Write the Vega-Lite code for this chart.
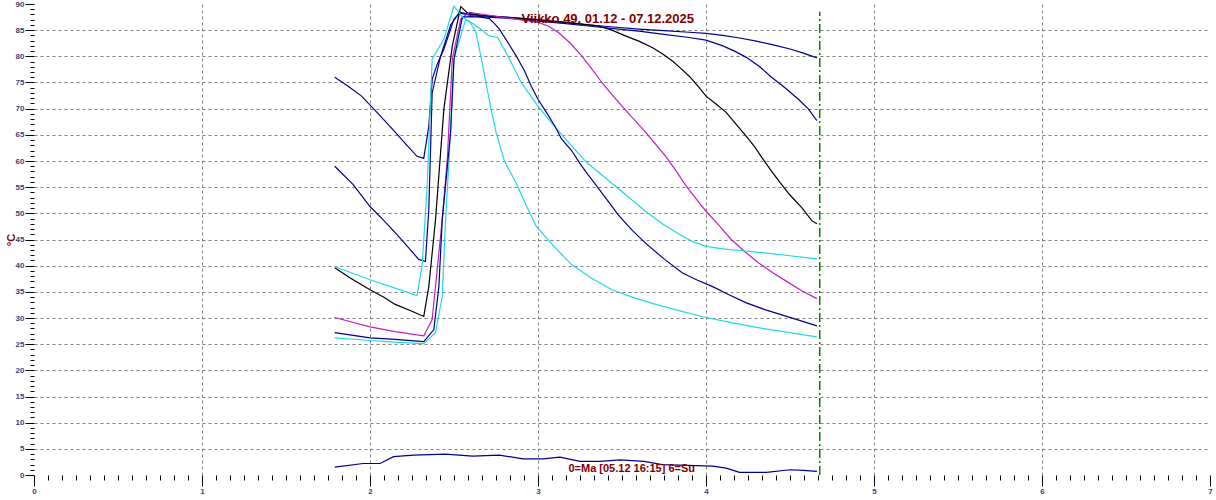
{
  "$schema": "https://vega.github.io/schema/vega-lite/v6.json",
  "width": 1176,
  "height": 471,
  "autosize": {"type": "none"},
  "padding": {"left": 34, "top": 4, "right": 6, "bottom": 25},
  "background": "white",
  "config": {"view": {"stroke": null}, "font": "Liberation Sans"},
  "datasets": {
    "curves": [
      {"s":"s1","x":1.79,"y":76.0},{"s":"s1","x":1.87,"y":74.3},{"s":"s1","x":1.95,"y":72.4},{"s":"s1","x":2.05,"y":69.0},{"s":"s1","x":2.15,"y":65.5},{"s":"s1","x":2.22,"y":63.0},{"s":"s1","x":2.28,"y":60.9},{"s":"s1","x":2.32,"y":60.5},{"s":"s1","x":2.35,"y":66.6},{"s":"s1","x":2.37,"y":75.6},{"s":"s1","x":2.40,"y":78.5},{"s":"s1","x":2.44,"y":81.4},{"s":"s1","x":2.50,"y":87.1},{"s":"s1","x":2.54,"y":88.4},{"s":"s1","x":2.60,"y":88.0},{"s":"s1","x":2.70,"y":87.7},{"s":"s1","x":2.85,"y":87.4},{"s":"s1","x":3.00,"y":86.9},{"s":"s1","x":3.15,"y":86.5},{"s":"s1","x":3.30,"y":86.0},{"s":"s1","x":3.45,"y":85.6},{"s":"s1","x":3.60,"y":85.2},{"s":"s1","x":3.75,"y":84.9},{"s":"s1","x":3.90,"y":84.6},{"s":"s1","x":4.00,"y":84.4},{"s":"s1","x":4.10,"y":84.0},{"s":"s1","x":4.20,"y":83.5},{"s":"s1","x":4.30,"y":82.9},{"s":"s1","x":4.40,"y":82.2},{"s":"s1","x":4.50,"y":81.4},{"s":"s1","x":4.58,"y":80.6},{"s":"s1","x":4.66,"y":79.7},
      {"s":"s2","x":1.79,"y":59.0},{"s":"s2","x":1.90,"y":55.5},{"s":"s2","x":2.00,"y":51.3},{"s":"s2","x":2.08,"y":48.7},{"s":"s2","x":2.15,"y":46.3},{"s":"s2","x":2.22,"y":43.8},{"s":"s2","x":2.29,"y":41.2},{"s":"s2","x":2.33,"y":40.8},{"s":"s2","x":2.35,"y":50.7},{"s":"s2","x":2.37,"y":73.0},{"s":"s2","x":2.42,"y":80.0},{"s":"s2","x":2.48,"y":86.0},{"s":"s2","x":2.53,"y":88.3},{"s":"s2","x":2.60,"y":87.8},{"s":"s2","x":2.70,"y":87.5},{"s":"s2","x":2.85,"y":87.2},{"s":"s2","x":3.00,"y":86.7},{"s":"s2","x":3.15,"y":86.3},{"s":"s2","x":3.30,"y":85.8},{"s":"s2","x":3.45,"y":85.3},{"s":"s2","x":3.60,"y":84.8},{"s":"s2","x":3.75,"y":84.2},{"s":"s2","x":3.90,"y":83.6},{"s":"s2","x":4.00,"y":83.1},{"s":"s2","x":4.10,"y":82.0},{"s":"s2","x":4.17,"y":81.0},{"s":"s2","x":4.24,"y":79.8},{"s":"s2","x":4.32,"y":78.0},{"s":"s2","x":4.39,"y":76.0},{"s":"s2","x":4.47,"y":74.0},{"s":"s2","x":4.55,"y":71.8},{"s":"s2","x":4.61,"y":69.9},{"s":"s2","x":4.66,"y":67.7},
      {"s":"s3","x":1.79,"y":39.6},{"s":"s3","x":1.88,"y":37.7},{"s":"s3","x":2.00,"y":35.4},{"s":"s3","x":2.08,"y":34.0},{"s":"s3","x":2.15,"y":32.6},{"s":"s3","x":2.25,"y":31.3},{"s":"s3","x":2.32,"y":30.3},{"s":"s3","x":2.35,"y":36.0},{"s":"s3","x":2.39,"y":48.8},{"s":"s3","x":2.44,"y":70.0},{"s":"s3","x":2.49,"y":82.0},{"s":"s3","x":2.54,"y":89.5},{"s":"s3","x":2.58,"y":88.3},{"s":"s3","x":2.65,"y":87.9},{"s":"s3","x":2.80,"y":87.5},{"s":"s3","x":3.00,"y":87.0},{"s":"s3","x":3.20,"y":86.4},{"s":"s3","x":3.36,"y":85.8},{"s":"s3","x":3.44,"y":85.0},{"s":"s3","x":3.52,"y":83.9},{"s":"s3","x":3.60,"y":82.9},{"s":"s3","x":3.68,"y":81.7},{"s":"s3","x":3.74,"y":80.5},{"s":"s3","x":3.80,"y":79.1},{"s":"s3","x":3.85,"y":77.7},{"s":"s3","x":3.90,"y":76.2},{"s":"s3","x":3.95,"y":74.4},{"s":"s3","x":4.00,"y":72.4},{"s":"s3","x":4.06,"y":70.9},{"s":"s3","x":4.12,"y":69.3},{"s":"s3","x":4.18,"y":67.0},{"s":"s3","x":4.24,"y":64.7},{"s":"s3","x":4.29,"y":62.7},{"s":"s3","x":4.33,"y":60.8},{"s":"s3","x":4.38,"y":58.5},{"s":"s3","x":4.44,"y":55.9},{"s":"s3","x":4.50,"y":53.5},{"s":"s3","x":4.57,"y":51.1},{"s":"s3","x":4.63,"y":48.6},{"s":"s3","x":4.66,"y":48.0},
      {"s":"s4","x":1.79,"y":30.1},{"s":"s4","x":2.00,"y":28.3},{"s":"s4","x":2.15,"y":27.4},{"s":"s4","x":2.32,"y":26.6},{"s":"s4","x":2.37,"y":29.7},{"s":"s4","x":2.40,"y":39.3},{"s":"s4","x":2.43,"y":48.8},{"s":"s4","x":2.46,"y":60.3},{"s":"s4","x":2.49,"y":79.5},{"s":"s4","x":2.54,"y":87.1},{"s":"s4","x":2.59,"y":88.4},{"s":"s4","x":2.70,"y":87.9},{"s":"s4","x":2.87,"y":87.1},{"s":"s4","x":3.00,"y":86.5},{"s":"s4","x":3.06,"y":85.8},{"s":"s4","x":3.12,"y":84.6},{"s":"s4","x":3.19,"y":82.6},{"s":"s4","x":3.26,"y":80.1},{"s":"s4","x":3.32,"y":77.6},{"s":"s4","x":3.38,"y":75.0},{"s":"s4","x":3.44,"y":72.7},{"s":"s4","x":3.50,"y":70.5},{"s":"s4","x":3.57,"y":68.0},{"s":"s4","x":3.64,"y":65.5},{"s":"s4","x":3.70,"y":63.2},{"s":"s4","x":3.76,"y":60.9},{"s":"s4","x":3.82,"y":58.2},{"s":"s4","x":3.88,"y":55.3},{"s":"s4","x":3.94,"y":52.8},{"s":"s4","x":4.00,"y":50.4},{"s":"s4","x":4.08,"y":47.6},{"s":"s4","x":4.15,"y":45.0},{"s":"s4","x":4.23,"y":42.7},{"s":"s4","x":4.31,"y":40.6},{"s":"s4","x":4.40,"y":38.6},{"s":"s4","x":4.48,"y":37.0},{"s":"s4","x":4.57,"y":35.2},{"s":"s4","x":4.66,"y":33.7},
      {"s":"s5","x":1.79,"y":26.2},{"s":"s5","x":2.00,"y":25.7},{"s":"s5","x":2.15,"y":25.4},{"s":"s5","x":2.32,"y":25.1},{"s":"s5","x":2.39,"y":27.2},{"s":"s5","x":2.43,"y":34.1},{"s":"s5","x":2.45,"y":48.8},{"s":"s5","x":2.47,"y":60.0},{"s":"s5","x":2.50,"y":79.5},{"s":"s5","x":2.57,"y":87.1},{"s":"s5","x":2.60,"y":86.5},{"s":"s5","x":2.65,"y":85.4},{"s":"s5","x":2.71,"y":83.9},{"s":"s5","x":2.76,"y":83.6},{"s":"s5","x":2.83,"y":79.5},{"s":"s5","x":2.90,"y":75.0},{"s":"s5","x":3.00,"y":70.5},{"s":"s5","x":3.08,"y":67.3},{"s":"s5","x":3.17,"y":64.0},{"s":"s5","x":3.29,"y":59.7},{"s":"s5","x":3.40,"y":56.8},{"s":"s5","x":3.52,"y":53.6},{"s":"s5","x":3.64,"y":50.4},{"s":"s5","x":3.74,"y":48.0},{"s":"s5","x":3.84,"y":46.0},{"s":"s5","x":3.92,"y":44.6},{"s":"s5","x":4.00,"y":43.7},{"s":"s5","x":4.10,"y":43.2},{"s":"s5","x":4.20,"y":42.9},{"s":"s5","x":4.30,"y":42.6},{"s":"s5","x":4.39,"y":42.3},{"s":"s5","x":4.50,"y":41.9},{"s":"s5","x":4.58,"y":41.6},{"s":"s5","x":4.66,"y":41.3},
      {"s":"s6","x":1.79,"y":27.2},{"s":"s6","x":2.00,"y":26.2},{"s":"s6","x":2.15,"y":25.9},{"s":"s6","x":2.32,"y":25.5},{"s":"s6","x":2.38,"y":27.8},{"s":"s6","x":2.41,"y":36.0},{"s":"s6","x":2.43,"y":48.8},{"s":"s6","x":2.48,"y":65.5},{"s":"s6","x":2.50,"y":79.5},{"s":"s6","x":2.55,"y":87.5},{"s":"s6","x":2.60,"y":87.6},{"s":"s6","x":2.66,"y":87.5},{"s":"s6","x":2.71,"y":87.2},{"s":"s6","x":2.74,"y":86.3},{"s":"s6","x":2.77,"y":85.2},{"s":"s6","x":2.82,"y":82.7},{"s":"s6","x":2.87,"y":80.1},{"s":"s6","x":2.92,"y":77.2},{"s":"s6","x":2.96,"y":74.3},{"s":"s6","x":3.00,"y":71.8},{"s":"s6","x":3.05,"y":69.3},{"s":"s6","x":3.10,"y":66.7},{"s":"s6","x":3.14,"y":64.2},{"s":"s6","x":3.20,"y":62.0},{"s":"s6","x":3.25,"y":59.5},{"s":"s6","x":3.30,"y":57.3},{"s":"s6","x":3.35,"y":55.2},{"s":"s6","x":3.42,"y":52.2},{"s":"s6","x":3.48,"y":49.6},{"s":"s6","x":3.56,"y":46.8},{"s":"s6","x":3.64,"y":44.3},{"s":"s6","x":3.75,"y":41.3},{"s":"s6","x":3.86,"y":38.6},{"s":"s6","x":3.95,"y":37.2},{"s":"s6","x":4.04,"y":36.0},{"s":"s6","x":4.14,"y":34.4},{"s":"s6","x":4.24,"y":32.9},{"s":"s6","x":4.36,"y":31.5},{"s":"s6","x":4.48,"y":30.3},{"s":"s6","x":4.58,"y":29.3},{"s":"s6","x":4.66,"y":28.5},
      {"s":"s7","x":1.79,"y":39.8},{"s":"s7","x":1.90,"y":38.5},{"s":"s7","x":2.00,"y":37.3},{"s":"s7","x":2.14,"y":35.8},{"s":"s7","x":2.28,"y":34.3},{"s":"s7","x":2.31,"y":40.0},{"s":"s7","x":2.34,"y":55.0},{"s":"s7","x":2.37,"y":79.5},{"s":"s7","x":2.44,"y":83.3},{"s":"s7","x":2.50,"y":89.6},{"s":"s7","x":2.55,"y":87.5},{"s":"s7","x":2.60,"y":86.3},{"s":"s7","x":2.63,"y":84.6},{"s":"s7","x":2.66,"y":80.0},{"s":"s7","x":2.69,"y":75.0},{"s":"s7","x":2.72,"y":70.0},{"s":"s7","x":2.75,"y":65.5},{"s":"s7","x":2.80,"y":60.0},{"s":"s7","x":2.87,"y":55.8},{"s":"s7","x":2.93,"y":51.5},{"s":"s7","x":2.99,"y":47.5},{"s":"s7","x":3.10,"y":43.5},{"s":"s7","x":3.20,"y":40.2},{"s":"s7","x":3.32,"y":37.6},{"s":"s7","x":3.44,"y":35.4},{"s":"s7","x":3.57,"y":33.9},{"s":"s7","x":3.70,"y":32.6},{"s":"s7","x":3.85,"y":31.3},{"s":"s7","x":4.00,"y":30.1},{"s":"s7","x":4.15,"y":29.1},{"s":"s7","x":4.30,"y":28.2},{"s":"s7","x":4.48,"y":27.3},{"s":"s7","x":4.66,"y":26.4},
      {"s":"s8","x":1.79,"y":1.5},{"s":"s8","x":1.96,"y":2.2},{"s":"s8","x":2.06,"y":2.2},{"s":"s8","x":2.14,"y":3.5},{"s":"s8","x":2.26,"y":3.8},{"s":"s8","x":2.45,"y":4.0},{"s":"s8","x":2.61,"y":3.6},{"s":"s8","x":2.77,"y":3.8},{"s":"s8","x":2.91,"y":3.1},{"s":"s8","x":3.03,"y":3.1},{"s":"s8","x":3.13,"y":3.4},{"s":"s8","x":3.25,"y":2.6},{"s":"s8","x":3.37,"y":2.6},{"s":"s8","x":3.49,"y":2.9},{"s":"s8","x":3.63,"y":2.6},{"s":"s8","x":3.74,"y":2.0},{"s":"s8","x":4.04,"y":1.7},{"s":"s8","x":4.12,"y":1.3},{"s":"s8","x":4.20,"y":0.5},{"s":"s8","x":4.36,"y":0.5},{"s":"s8","x":4.50,"y":1.0},{"s":"s8","x":4.58,"y":0.9},{"s":"s8","x":4.66,"y":0.7}
    ],
    "marker": [{"x": 4.677, "y": 0, "y2": 88.5}],
    "titles": [{"x": 3.415, "y": 86.4, "label": "Viikko 49. 01.12 - 07.12.2025"}],
    "notes": [{"x": 3.558, "y": 0.52, "label": "0=Ma [05.12 16:15] 6=Su"}]
  },
  "encoding": {
    "x": {
      "field": "x", "type": "quantitative",
      "scale": {"domain": [0, 7], "nice": false, "zero": false},
      "axis": {
        "title": null,
        "domain": false,
        "values": [0,0.0833333,0.1666667,0.25,0.3333333,0.4166667,0.5,0.5833333,0.6666667,0.75,0.8333333,0.9166667,1,1.0833333,1.1666667,1.25,1.3333333,1.4166667,1.5,1.5833333,1.6666667,1.75,1.8333333,1.9166667,2,2.0833333,2.1666667,2.25,2.3333333,2.4166667,2.5,2.5833333,2.6666667,2.75,2.8333333,2.9166667,3,3.0833333,3.1666667,3.25,3.3333333,3.4166667,3.5,3.5833333,3.6666667,3.75,3.8333333,3.9166667,4,4.0833333,4.1666667,4.25,4.3333333,4.4166667,4.5,4.5833333,4.6666667,4.75,4.8333333,4.9166667,5,5.0833333,5.1666667,5.25,5.3333333,5.4166667,5.5,5.5833333,5.6666667,5.75,5.8333333,5.9166667,6,6.0833333,6.1666667,6.25,6.3333333,6.4166667,6.5,6.5833333,6.6666667,6.75,6.8333333,6.9166667,7],
        "labelExpr": "abs(datum.value - round(datum.value)) < 0.001 ? format(round(datum.value), 'd') : ''",
        "labelFlush": false,
        "labelOverlap": false,
        "labelFontSize": 8,
        "labelFontWeight": "bold",
        "labelColor": "#404080",
        "labelPadding": 1,
        "tickColor": "#000000",
        "tickSize": {"condition": {"test": "abs(datum.value - round(datum.value)) < 0.001", "value": 11}, "value": 5},
        "grid": true,
        "gridColor": "#808080",
        "gridDash": [3, 3],
        "gridOpacity": {"condition": {"test": "abs(datum.value - round(datum.value)) < 0.001 && datum.value > 0.5 && datum.value < 6.5", "value": 1}, "value": 0}
      }
    },
    "y": {
      "field": "y", "type": "quantitative",
      "scale": {"domain": [0, 90], "nice": false, "zero": true},
      "axis": {
        "title": "°C",
        "titleColor": "#800000",
        "titleFontSize": 11,
        "titleFontWeight": "bold",
        "titleX": -20,
        "titleBaseline": "alphabetic",
        "domain": false,
        "values": [0,1,2,3,4,5,6,7,8,9,10,11,12,13,14,15,16,17,18,19,20,21,22,23,24,25,26,27,28,29,30,31,32,33,34,35,36,37,38,39,40,41,42,43,44,45,46,47,48,49,50,51,52,53,54,55,56,57,58,59,60,61,62,63,64,65,66,67,68,69,70,71,72,73,74,75,76,77,78,79,80,81,82,83,84,85,86,87,88,89,90],
        "labelExpr": "datum.value % 5 === 0 ? datum.label : ''",
        "labelFlush": false,
        "labelOverlap": false,
        "labelFontSize": 8,
        "labelFontWeight": "bold",
        "labelColor": "#404080",
        "labelPadding": 1,
        "tickColor": "#000000",
        "tickSize": {"condition": {"test": "datum.value % 5 === 0", "value": 9}, "value": 4},
        "grid": true,
        "gridColor": "#808080",
        "gridDash": [3, 3],
        "gridOpacity": {"condition": {"test": "datum.value % 5 === 0 && datum.value > 0 && datum.value < 90", "value": 1}, "value": 0}
      }
    }
  },
  "layer": [
    {
      "data": {"name": "curves"},
      "mark": {"type": "line", "strokeWidth": 1.2, "clip": true},
      "encoding": {
        "color": {
          "field": "s", "type": "nominal", "legend": null,
          "scale": {
            "domain": ["s1","s2","s3","s4","s5","s6","s7","s8"],
            "range": ["#000090","#000090","#000000","#C020C0","#20D8E8","#000090","#20D8E8","#000090"]
          }
        }
      }
    },
    {
      "data": {"name": "marker"},
      "mark": {"type": "rule", "color": "#0A7A0A", "strokeWidth": 1.5, "strokeDash": [9, 3, 2, 3]},
      "encoding": {
        "y2": {"field": "y2"}
      }
    },
    {
      "data": {"name": "titles"},
      "mark": {"type": "text", "font": "Liberation Sans", "fontSize": 13, "fontWeight": "bold", "color": "#800000", "align": "center", "baseline": "alphabetic"},
      "encoding": {
        "text": {"field": "label"}
      }
    },
    {
      "data": {"name": "notes"},
      "mark": {"type": "text", "font": "Liberation Sans", "fontSize": 11, "fontWeight": "bold", "color": "#800000", "align": "center", "baseline": "alphabetic"},
      "encoding": {
        "text": {"field": "label"}
      }
    }
  ]
}
